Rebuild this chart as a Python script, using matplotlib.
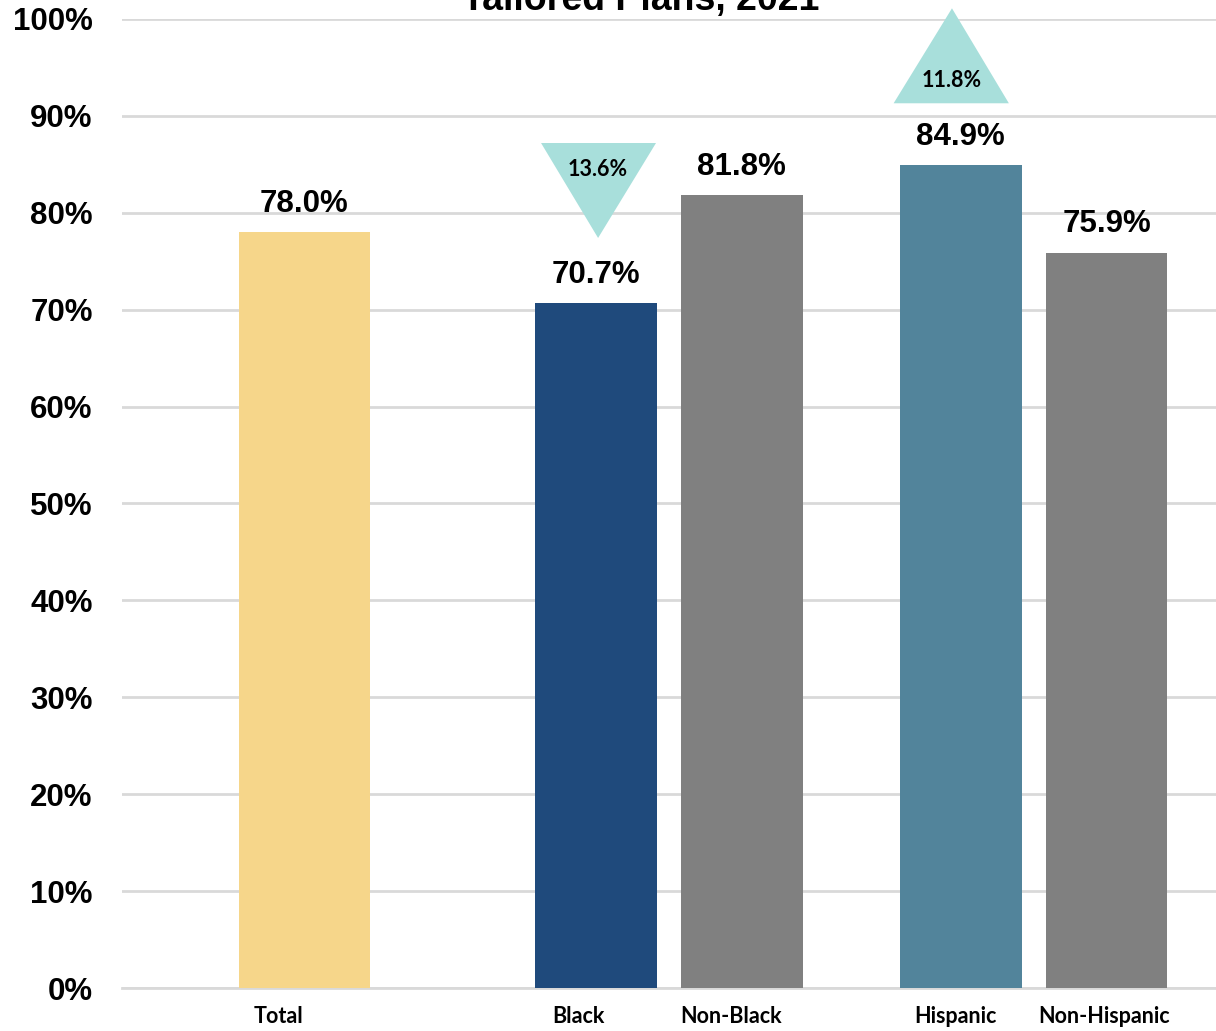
import numpy as np
import matplotlib.pyplot as plt
import matplotlib.transforms as mtransforms
from matplotlib.patches import Polygon

# Data
groups = ["Total", "Black", "Non-Black", "Hispanic", "Non-Hispanic"]
rates = [78.0, 70.7, 81.8, 84.9, 75.9]
positions = [0, 2, 3, 4.5, 5.5]
barColors = ["#f6d68a", "#1f4a7c", "#808080", "#52849b", "#808080"]
barWidths = [0.9, 0.835, 0.835, 0.835, 0.835]
gapLabels = ["13.6%", "11.8%"]
titleText = "Tailored Plans, 2021"

# Figure setup
fig = plt.figure(figsize=(12.16, 10.31), dpi=100)
ax = fig.add_axes([0.1003, 0.0417, 0.8997, 0.9399])

ax.bar(positions, rates, width=barWidths, color=barColors, zorder=3)

# Value labels above bars
for x, v in zip(positions, rates):
    ax.annotate("%.1f%%" % v, (x, v), xytext=(0, 14.5), textcoords="offset points",
                ha="center", va="baseline", fontsize=22.5, fontweight="bold",
                family="Liberation Sans", color="black")

# Disparity markers (down for Black, up for Hispanic)
teal = "#a8dfdb"
down = Polygon([[1.623, 87.2], [2.411, 87.2], [2.014, 77.4]], closed=True,
               facecolor=teal, edgecolor="none", zorder=4, clip_on=False)
up = Polygon([[4.04, 91.3], [4.83, 91.3], [4.44, 101.1]], closed=True,
             facecolor=teal, edgecolor="none", zorder=4, clip_on=False)
ax.add_patch(down)
ax.add_patch(up)
ax.text(2.014, 84.5, gapLabels[0], ha="center", va="center", fontsize=15.5,
        fontweight="bold", family="Lato", color="black", zorder=5)
ax.text(4.44, 93.7, gapLabels[1], ha="center", va="center", fontsize=15.5,
        fontweight="bold", family="Lato", color="black", zorder=5, clip_on=False)

# Axes styling
ax.set_xlim(-1.25, 6.25)
ax.set_ylim(0, 100)
ax.set_yticks(np.arange(0, 101, 10))
ax.set_yticklabels(["%d%%" % t for t in range(0, 101, 10)], fontsize=22.5,
                   fontweight="bold", family="Liberation Sans")
ax.set_xticks(positions)
ax.set_xticklabels(groups, fontsize=15.5, fontweight="bold", family="Lato")
ax.tick_params(axis="y", length=0, pad=21)
ax.tick_params(axis="x", length=0, pad=13)

# nudge category labels slightly left of the bar centres
shifts = [-26, -18, -11, -5, -3]
for lbl, dx in zip(ax.get_xticklabels(), shifts):
    lbl.set_transform(lbl.get_transform() + mtransforms.ScaledTranslation(dx / 100, 0, fig.dpi_scale_trans))

ax.grid(axis="y", color="#d9d9d9", linewidth=2, zorder=0)
for side in ["top", "right", "left"]:
    ax.spines[side].set_visible(False)
ax.spines["bottom"].set_color("#d9d9d9")
ax.spines["bottom"].set_linewidth(2)

# Title (second line sits at the top edge)
fig.text(0.527, 1 - 10 / 1031, titleText, ha="center", va="baseline",
         fontsize=27, fontweight="bold", family="Liberation Sans")

plt.savefig("out.png", dpi=100)
